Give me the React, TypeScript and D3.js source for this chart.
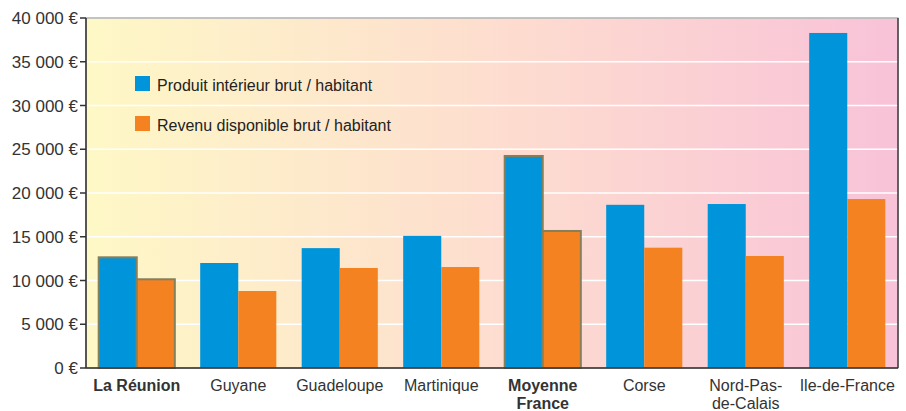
import React, { useEffect, useRef } from 'react';
import * as d3 from 'd3';

const width = 906;
const height = 411;
const margin = { top: 18, right: 8, bottom: 43, left: 86 };

const regions = ['La Réunion', 'Guyane', 'Guadeloupe', 'Martinique', 'Moyenne France', 'Corse', 'Nord-Pas-de-Calais', 'Ile-de-France'];
const regionLines = [['La Réunion'], ['Guyane'], ['Guadeloupe'], ['Martinique'], ['Moyenne', 'France'], ['Corse'], ['Nord-Pas-', 'de-Calais'], ['Ile-de-France']];
const highlighted = ['La Réunion', 'Moyenne France'];
const pibValues = [12650, 12000, 13700, 15100, 24230, 18650, 18740, 38290];
const rdbValues = [10140, 8800, 11430, 11540, 15660, 13750, 12800, 19310];
const yTicks = [0, 5000, 10000, 15000, 20000, 25000, 30000, 35000, 40000];
const seriesNames = ['Produit intérieur brut / habitant', 'Revenu disponible brut / habitant'];
const seriesColors = ['#0095da', '#f58220'];

const fmt = (v: number) => (v === 0 ? '0 €' : d3.format(',')(v).replace(',', ' ') + ' €');

export default function App() {
  const ref = useRef<SVGSVGElement>(null);

  useEffect(() => {
    const svg = d3.select(ref.current);
    svg.selectAll('*').remove();
    const iw = width - margin.left - margin.right;
    const ih = height - margin.top - margin.bottom;

    const defs = svg.append('defs');
    const grad = defs.append('linearGradient').attr('id', 'bg').attr('x1', '0%').attr('x2', '100%');
    grad.append('stop').attr('offset', '0%').attr('stop-color', '#fef8c6');
    grad.append('stop').attr('offset', '55%').attr('stop-color', '#fddbd0');
    grad.append('stop').attr('offset', '100%').attr('stop-color', '#f8c2d8');

    const g = svg.append('g').attr('transform', `translate(${margin.left},${margin.top})`);

    const x = d3.scaleBand().domain(regions).range([0, iw]).paddingInner(0.25).paddingOuter(0.125);
    const y = d3.scaleLinear().domain([0, 40000]).range([ih, 0]);
    const half = x.bandwidth() / 2;

    g.append('rect').attr('width', iw).attr('height', ih).attr('fill', 'url(#bg)');

    // grid
    g.selectAll('line.grid')
      .data(yTicks.slice(1))
      .enter().append('line')
      .attr('class', 'grid')
      .attr('x1', 0).attr('x2', iw)
      .attr('y1', (d) => y(d)).attr('y2', (d) => y(d))
      .attr('stroke', '#ffffff')
      .attr('stroke-width', 1.5);

    // bars
    const groups = g.selectAll('g.region')
      .data(regions)
      .enter().append('g')
      .attr('transform', (d) => `translate(${x(d)},0)`);

    [pibValues, rdbValues].forEach((vals, si) => {
      groups.append('rect')
        .attr('x', si * half)
        .attr('y', (_, i) => y(vals[i]))
        .attr('width', half)
        .attr('height', (_, i) => ih - y(vals[i]))
        .attr('fill', seriesColors[si])
        .attr('stroke', (d) => (highlighted.includes(d) ? '#857f5c' : 'none'))
        .attr('stroke-width', 2);
    });

    // frame
    g.append('rect').attr('width', iw).attr('height', ih)
      .attr('fill', 'none').attr('stroke', '#888').attr('stroke-width', 1);
    g.append('line').attr('x1', iw).attr('x2', iw).attr('y1', 0).attr('y2', ih)
      .attr('stroke', '#444').attr('stroke-width', 1.5);
    g.append('line').attr('x1', 0).attr('x2', 0).attr('y1', 0).attr('y2', ih)
      .attr('stroke', '#333').attr('stroke-width', 1.5);
    g.append('line').attr('x1', 0).attr('x2', iw).attr('y1', ih).attr('y2', ih)
      .attr('stroke', '#333').attr('stroke-width', 1.5);

    // y axis
    const yAxis = g.append('g');
    yAxis.selectAll('line.tick')
      .data(yTicks)
      .enter().append('line')
      .attr('x1', -6).attr('x2', 0)
      .attr('y1', (d) => y(d)).attr('y2', (d) => y(d))
      .attr('stroke', '#333').attr('stroke-width', 1.5);
    yAxis.selectAll('text')
      .data(yTicks)
      .enter().append('text')
      .attr('x', -8)
      .attr('y', (d) => y(d))
      .attr('dy', '0.36em')
      .attr('text-anchor', 'end')
      .attr('font-size', 17)
      .attr('fill', '#333')
      .text((d) => fmt(d));

    // x labels
    const labels = g.selectAll('text.cat')
      .data(regions)
      .enter().append('text')
      .attr('class', 'cat')
      .attr('text-anchor', 'middle')
      .attr('font-size', 16)
      .attr('fill', '#333')
      .attr('font-weight', (d) => (highlighted.includes(d) ? 'bold' : 'normal'))
      .attr('transform', (d) => `translate(${(x(d) || 0) + half},${ih + 23})`);
    labels.each(function (_, i) {
      d3.select(this).selectAll('tspan')
        .data(regionLines[i])
        .enter().append('tspan')
        .attr('x', 0)
        .attr('dy', (_, j) => (j === 0 ? 0 : 18))
        .text((t) => t);
    });

    // legend
    const legend = g.append('g').attr('transform', 'translate(49,58)');
    seriesNames.forEach((name, i) => {
      legend.append('rect').attr('x', 0).attr('y', i * 40)
        .attr('width', 15).attr('height', 15).attr('fill', seriesColors[i]);
      legend.append('text').attr('x', 22).attr('y', i * 40 + 15)
        .attr('font-size', 16).attr('fill', '#222').text(name);
    });
  }, []);

  return (
    <svg ref={ref} width={width} height={height}
      style={{ position: 'absolute', left: 0, top: 0, fontFamily: '"Liberation Sans", Arial, sans-serif' }} />
  );
}
